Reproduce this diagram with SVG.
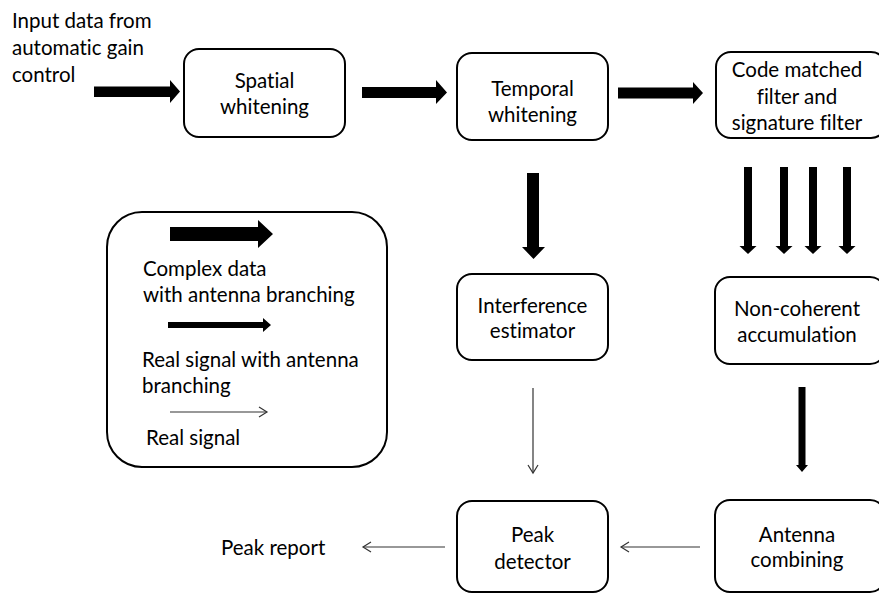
<svg xmlns="http://www.w3.org/2000/svg" width="879" height="594" viewBox="0 0 879 594">
<defs>
<style>
text{font-family:Lato,"Open Sans","Liberation Sans",sans-serif;font-size:20.5px;fill:#000;font-variant-ligatures:none;font-feature-settings:"liga" 0}
.c{text-anchor:middle}
.box{fill:#fff;stroke:#000;stroke-width:2}
.thick{fill:#000;stroke:none}
.thin{fill:none;stroke:#333;stroke-width:1.2}
</style>
</defs>
<rect width="879" height="594" fill="#fff"/>
<g id="input-label">
<text x="12" y="28">Input data from</text>
<text x="12" y="55">automatic gain</text>
<text x="12" y="82">control</text>
</g>
<g id="spatial-whitening">
<rect class="box" x="184" y="49" width="161" height="88" rx="15"/>
<text class="c" x="264.5" y="88">Spatial</text>
<text class="c" x="264.5" y="114">whitening</text>
</g>
<g id="temporal-whitening">
<rect class="box" x="457" y="53" width="151" height="87" rx="15"/>
<text class="c" x="532.5" y="96">Temporal</text>
<text class="c" x="532.5" y="122">whitening</text>
</g>
<g id="code-matched-filter">
<rect class="box" x="716" y="52" width="170" height="86" rx="15"/>
<text class="c" x="797" y="77">Code matched</text>
<text class="c" x="797" y="104">filter and</text>
<text class="c" x="797" y="130">signature filter</text>
</g>
<g id="interference-estimator">
<rect class="box" x="457" y="274" width="151" height="86" rx="15"/>
<text class="c" x="532.5" y="313">Interference</text>
<text class="c" x="532.5" y="338">estimator</text>
</g>
<g id="non-coherent-accumulation">
<rect class="box" x="715" y="277" width="170" height="87" rx="15"/>
<text class="c" x="797" y="316">Non-coherent</text>
<text class="c" x="797" y="342">accumulation</text>
</g>
<g id="peak-detector">
<rect class="box" x="457" y="501" width="151" height="91" rx="15"/>
<text class="c" x="532.5" y="542">Peak</text>
<text class="c" x="532.5" y="569">detector</text>
</g>
<g id="antenna-combining">
<rect class="box" x="715" y="500" width="170" height="92" rx="15"/>
<text class="c" x="797" y="542">Antenna</text>
<text class="c" x="797" y="567">combining</text>
</g>
<g id="peak-report">
<text x="221" y="555">Peak report</text>
</g>
<g id="legend">
<rect class="box" x="107" y="212" width="280" height="255" rx="35"/>
<polygon class="thick" points="170,227 258,227 258,220 273,234 258,248 258,241 170,241"/>
<text x="143" y="276">Complex data</text>
<text x="143" y="302">with antenna branching</text>
<polygon class="thick" points="168,322 263,322 263,318 271,325 263,332 263,328 168,328"/>
<text x="142" y="367">Real signal with antenna</text>
<text x="142" y="393">branching</text>
<line class="thin" x1="170" y1="412" x2="267" y2="412"/>
<polyline class="thin" points="259,407 267,412 259,417"/>
<text x="146" y="445">Real signal</text>
</g>
<g id="connectors">
<polygon class="thick" points="94,86.5 170,86.5 170,80 180,91.5 170,103 170,97 94,97"/>
<polygon class="thick" points="362,87 436,87 436,80 447,92.5 436,104 436,98 362,98"/>
<polygon class="thick" points="618,87.5 693,87.5 693,82 703,93 693,104 693,98.5 618,98.5"/>
<polygon class="thick" points="527,173 539,173 539,247 545,247 533.5,259 522,247 527,247"/>
<polygon class="thick" points="744,167 752,167 752,246 756.5,246 748,254 739.5,246 744,246"/>
<polygon class="thick" points="780,167 788,167 788,246 792.5,246 784,254 775.5,246 780,246"/>
<polygon class="thick" points="809,167 817,167 817,246 821.5,246 813,254 804.5,246 809,246"/>
<polygon class="thick" points="843,167 851,167 851,246 855.5,246 847,254 838.5,246 843,246"/>
<polygon class="thick" points="798.5,387 805.5,387 805.5,465 808,465 802,472 796,465 798.5,465"/>
<line class="thin" x1="533" y1="388" x2="533" y2="473"/>
<polyline class="thin" points="528,465 533,473 538,465"/>
<line class="thin" x1="700" y1="547" x2="621" y2="547"/>
<polyline class="thin" points="629,542 621,547 629,552"/>
<line class="thin" x1="445" y1="547" x2="363" y2="547"/>
<polyline class="thin" points="371,542 363,547 371,552"/>
</g>
</svg>
